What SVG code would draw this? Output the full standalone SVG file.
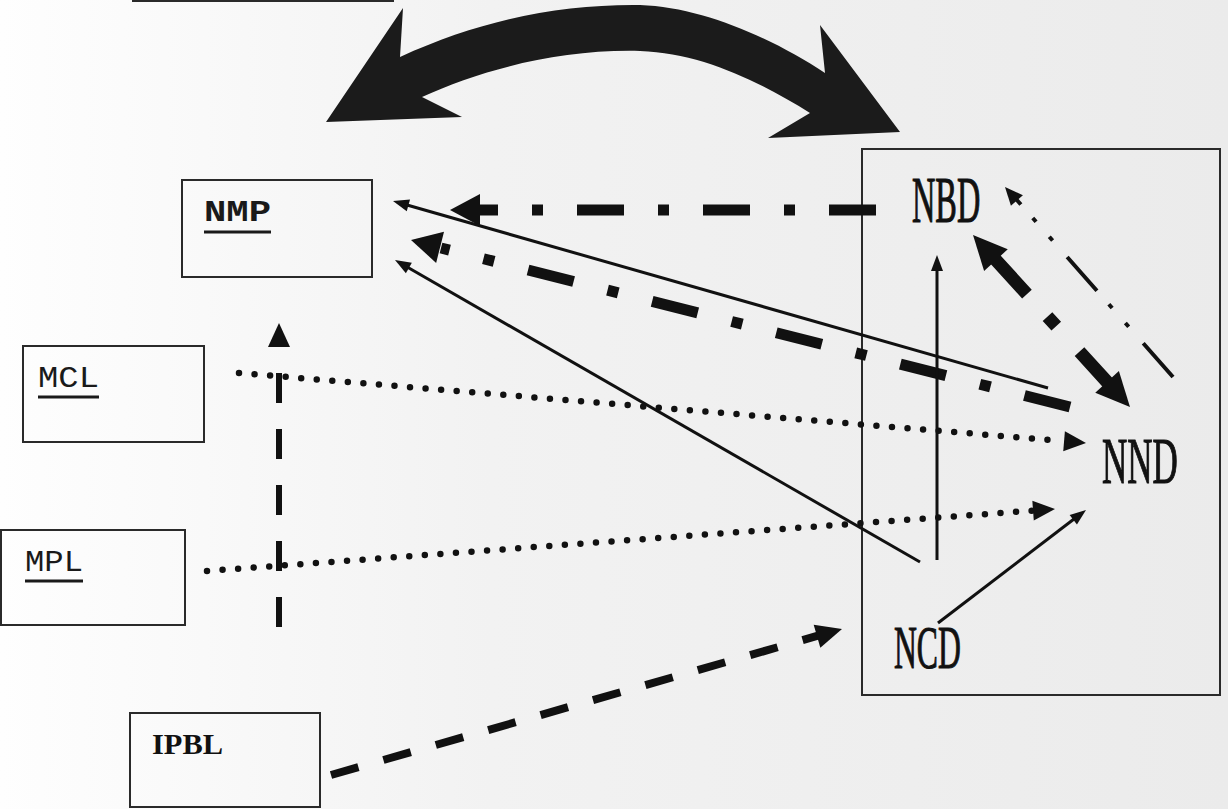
<svg xmlns="http://www.w3.org/2000/svg" width="1228" height="809" viewBox="0 0 1228 809">
<style>
.box{fill:none;stroke:#2a2a2a;stroke-width:2}
.mono{font-family:"Liberation Mono","Courier New",monospace;font-size:29px;fill:#1a1a1a}
.serif{font-family:"Liberation Serif","Times New Roman",serif;fill:#111}
.big{font-size:66px;stroke:#111;stroke-width:1.2}
.ul{stroke:#1a1a1a;stroke-width:3}
.thin{stroke:#111;stroke-width:3;fill:none}
.dot{stroke:#111;stroke-width:6.5;stroke-linecap:round;stroke-dasharray:0 15.6;fill:none}
.hd{fill:#111}
</style>
<defs>
<linearGradient id="bg" x1="0" y1="0" x2="1" y2="0">
<stop offset="0" stop-color="#fefefe"/>
<stop offset="0.4" stop-color="#f2f2f2"/>
<stop offset="1" stop-color="#ebebeb"/>
</linearGradient>
<path id="hSmall" d="M0,0 L-16,-6 L-16,6 Z"/>
<path id="hDot" d="M0,0 L-22,-10 L-22,10 Z"/>
<path id="hDash" d="M0,0 L-26,-12 L-26,12 Z"/>
<path id="hBig" d="M0,0 L-30,-16 L-30,16 Z"/>
<path id="hFat" d="M0,0 L-34,-16 L-34,16 Z"/>
<path id="hVert" d="M0,0 L-24,-11 L-24,11 Z"/>
<path id="hTiny" d="M0,0 L-18,-8 L-18,8 Z"/>
</defs>
<rect width="1228" height="809" fill="url(#bg)"/>

<g id="top-box"><rect class="box" x="133" y="-60" width="260" height="61"/></g>

<g id="big-double-arrow">
<path fill="#1b1b1b" d="M326,122 L403,8 L400,57 C480,20 560,4 640,5 C702,7 772,38 825,73 L820,25 L900,132 L768,138 L810,113 C760,82 702,53 640,51 C560,49 480,70 422,97 L462,117 Z"/>
</g>

<g id="NMP"><rect class="box" x="182" y="180" width="190" height="97"/>
<text class="mono" x="204" y="221" font-weight="bold" textLength="67" lengthAdjust="spacingAndGlyphs">NMP</text>
<line class="ul" x1="204" y1="232" x2="271" y2="232"/></g>

<g id="MCL"><rect class="box" x="23" y="346" width="181" height="96"/>
<text class="mono" x="38" y="387" textLength="61" lengthAdjust="spacingAndGlyphs">MCL</text>
<line class="ul" x1="38" y1="397" x2="99" y2="397"/></g>

<g id="MPL"><rect class="box" x="1" y="530" width="184" height="95"/>
<text class="mono" x="25" y="571" textLength="58" lengthAdjust="spacingAndGlyphs">MPL</text>
<line class="ul" x1="25" y1="581" x2="83" y2="581"/></g>

<g id="IPBL"><rect class="box" x="130" y="713" width="190" height="94"/>
<text class="serif" x="152" y="754" font-size="29" font-weight="bold" textLength="71" lengthAdjust="spacingAndGlyphs">IPBL</text></g>

<g id="N-group"><rect class="box" x="862" y="149" width="358" height="546"/></g>
<g id="NBD"><text class="serif big" transform="translate(912,222) scale(0.49,1)">NBD</text></g>
<g id="NND"><text class="serif big" transform="translate(1102,483) scale(0.53,1)">NND</text></g>
<g id="NCD"><text class="serif big" transform="translate(894,668) scale(0.48,0.92)">NCD</text></g>

<g id="connectors">
<path d="M876,210 L478,210" stroke="#111" stroke-width="11" stroke-dasharray="47 34 11 34" fill="none"/>
<use href="#hBig" class="hd" transform="translate(450,210) rotate(180)"/>
<path d="M1070,407 L441,248" stroke="#111" stroke-width="11" stroke-dasharray="47 35 11 35" fill="none"/>
<use href="#hBig" class="hd" transform="translate(411,240) rotate(194.24)"/>
<path d="M994.6,258.6 L1108.5,383.5" stroke="#111" stroke-width="13" stroke-dasharray="48 30.5 13 34.5 50" fill="none"/>
<use href="#hFat" class="hd" transform="translate(973,235) rotate(227.6)"/>
<use href="#hFat" class="hd" transform="translate(1130,407) rotate(47.6)"/>
<path d="M1173,377 L1016,199" stroke="#111" stroke-width="4" stroke-dasharray="45 22 5 20 5 18" fill="none"/>
<use href="#hTiny" class="hd" transform="translate(1005,187) rotate(228.5)"/>
<path class="thin" d="M1048,388 L407,205"/>
<use href="#hSmall" class="hd" transform="translate(393,201) rotate(195.93)"/>
<path class="thin" d="M920,562 L408,267.5"/>
<use href="#hSmall" class="hd" transform="translate(395,260) rotate(209.9)"/>
<path class="thin" d="M937,560 L937,270"/>
<use href="#hSmall" class="hd" transform="translate(937,255) rotate(-90)"/>
<path class="thin" d="M938,623 L1074,519"/>
<use href="#hSmall" class="hd" transform="translate(1086,510) rotate(-37.36)"/>
<path class="dot" d="M239,373 L1062,441"/>
<use href="#hDot" class="hd" transform="translate(1086,443) rotate(4.72)"/>
<path class="dot" d="M207,571 L1032,510.7"/>
<use href="#hDot" class="hd" transform="translate(1055,509) rotate(-4.18)"/>
<path d="M279,627 L279,372" stroke="#111" stroke-width="6" stroke-dasharray="30 26" fill="none"/>
<use href="#hVert" class="hd" transform="translate(279,323) rotate(-90)"/>
<path d="M331,775 L818,635.7" stroke="#111" stroke-width="8" stroke-dasharray="28.5 26" fill="none"/>
<use href="#hDash" class="hd" transform="translate(842,629) rotate(-16.05)"/>
</g>
</svg>
